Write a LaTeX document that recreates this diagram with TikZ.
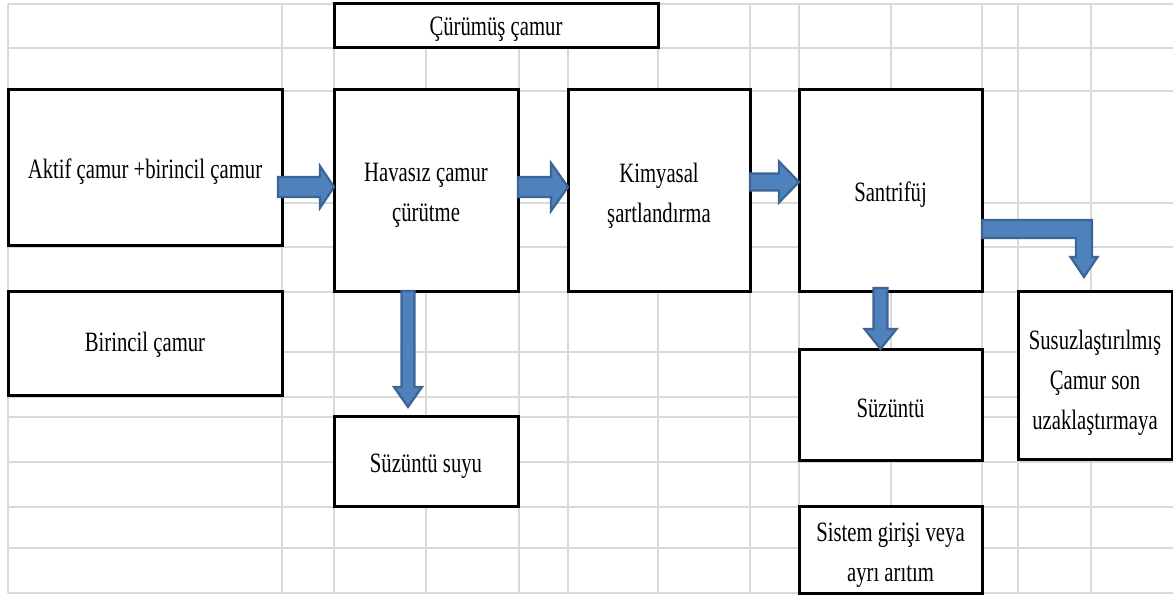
\documentclass[tikz,border=0pt]{standalone}
\usepackage{fontspec}
\setmainfont{Liberation Serif}[FakeStretch=0.74]
\usetikzlibrary{calc}

\definecolor{gridgray}{HTML}{D9D9D9}
\definecolor{arrowfill}{HTML}{4F81BD}
\definecolor{arrowline}{HTML}{3C6494}

\tikzset{
  gridline/.style={draw=gridgray, line width=1.6pt},
  box/.style={draw=black, fill=white, line width=3pt, inner sep=0pt, outer sep=0pt},
  boxtext/.style={inner sep=0pt, align=center, font=\fontsize{28}{40}\selectfont},
  blockarrow/.style={fill=arrowfill, draw=arrowline, line width=2.2pt, line join=miter},
}

% block arrow pointing right: start, target (x of the tip), shaft half, head half, head length
\newcommand\rightblock[5]{%
  \path[blockarrow] let \p1=(#1), \p2=(#2) in
    (\x1,\y1+#3pt) -- (\x2-#5pt,\y1+#3pt) -- (\x2-#5pt,\y1+#4pt) -- (\x2,\y1)
    -- (\x2-#5pt,\y1-#4pt) -- (\x2-#5pt,\y1-#3pt) -- (\x1,\y1-#3pt) -- cycle;}
% block arrow pointing down: start, target (y of the tip), shaft half, head half, head length
\newcommand\downblock[5]{%
  \path[blockarrow] let \p1=(#1), \p2=(#2) in
    (\x1-#3pt,\y1) -- (\x1-#3pt,\y2+#5pt) -- (\x1-#4pt,\y2+#5pt) -- (\x1,\y2)
    -- (\x1+#4pt,\y2+#5pt) -- (\x1+#3pt,\y2+#5pt) -- (\x1+#3pt,\y1) -- cycle;}

\begin{document}
\begin{tikzpicture}[x=1pt, y=-1pt]
\useasboundingbox (0,0) rectangle (1173,596);

% spreadsheet grid
\foreach \gx in {8,282,334,426,519,568,658,750,799,891,982,1018,1091}
  \draw[gridline] (\gx,4) -- (\gx,593);
\foreach \gy in {4,48,91,203,247,292,352,397,417,462,507,548,593}
  \draw[gridline] (8,\gy) -- (1173,\gy);

% process boxes
\node[box, minimum width=324pt, minimum height=44pt]  (cur)       at (496,26)     {};
\node[box, minimum width=274pt, minimum height=156pt] (aktif)     at (145,168)    {};
\node[box, minimum width=184pt, minimum height=201pt] (havasiz)   at (426,190.5)  {};
\node[box, minimum width=182pt, minimum height=201pt] (kimyasal)  at (659,190.5)  {};
\node[box, minimum width=183pt, minimum height=201pt] (santrifuj) at (890.5,190.5){};
\node[box, minimum width=274pt, minimum height=104pt] (birincil)  at (145,343)    {};
\node[box, minimum width=184pt, minimum height=90pt]  (suyu)      at (426,461)    {};
\node[box, minimum width=183pt, minimum height=111pt] (suzuntu)   at (890.5,404.5){};
\node[box, minimum width=154pt, minimum height=168pt] (susuz)     at (1095,375)   {};
\node[box, minimum width=183pt, minimum height=87pt]  (sistem)    at (890.5,549.5){};

% box labels
\node[boxtext] (cur-t)       at ([yshift=-3pt]cur.center)       {Çürümüş çamur};
\node[boxtext] (aktif-t)     at ([yshift=-4pt]aktif.center)     {Aktif çamur +birincil çamur};
\node[boxtext] (havasiz-t)   at ([yshift=-5pt]havasiz.center)   {Havasız çamur\\çürütme};
\node[boxtext] (kimyasal-t)  at ([yshift=-5pt]kimyasal.center)  {Kimyasal\\şartlandırma};
\node[boxtext] (santrifuj-t) at ([yshift=-4pt]santrifuj.center) {Santrifüj};
\node[boxtext] (birincil-t)  at ([yshift=-2pt]birincil.center)  {Birincil çamur};
\node[boxtext] (suyu-t)      at ([yshift=-5pt]suyu.center)      {Süzüntü suyu};
\node[boxtext] (suzuntu-t)   at ([yshift=-4pt]suzuntu.center)   {Süzüntü};
\node[boxtext] (susuz-t)     at ([yshift=-8pt]susuz.center)     {Susuzlaştırılmış\\Çamur son\\uzaklaştırmaya};
\node[boxtext] (sistem-t)    at ([yshift=-6pt]sistem.center)    {Sistem girişi veya\\ayrı arıtım};

% arrow end points
\coordinate (a1s) at ([xshift=-4pt,yshift=-19pt]aktif.east);
\coordinate (a2s) at ([yshift=3.5pt]havasiz.east);
\coordinate (a3s) at ([yshift=8.5pt]kimyasal.east);
\coordinate (a5s) at ([xshift=-18pt]havasiz.south);
\coordinate (a5t) at ([yshift=9pt]suyu.north);
\coordinate (a6s) at ([xshift=-10pt,yshift=3pt]santrifuj.south);
\coordinate (a4s) at ([yshift=-38.5pt]santrifuj.east);
\coordinate (a4t) at ([xshift=-11pt,yshift=14pt]susuz.north);

% flow arrows
\rightblock{a1s}{havasiz.west}{10}{21}{14}
\rightblock{a2s}{kimyasal.west}{10}{24}{17}
\rightblock{a3s}{santrifuj.west}{8.5}{20.5}{20}
\downblock{a5s}{a5t}{6.5}{14}{20}
\downblock{a6s}{suzuntu.north}{7}{16}{20}

% bent arrow from the centrifuge to the dewatered sludge
\path[blockarrow] let \p1=(a4s), \p2=(a4t) in
  (\x1,\y1+9pt) -- (\x2+8pt,\y1+9pt) -- (\x2+8pt,\y2+20pt) -- (\x2+13.5pt,\y2+20pt)
  -- (\x2,\y2) -- (\x2-13.5pt,\y2+20pt) -- (\x2-8pt,\y2+20pt) -- (\x2-8pt,\y1-9pt)
  -- (\x1,\y1-9pt) -- cycle;
\end{tikzpicture}
\end{document}
